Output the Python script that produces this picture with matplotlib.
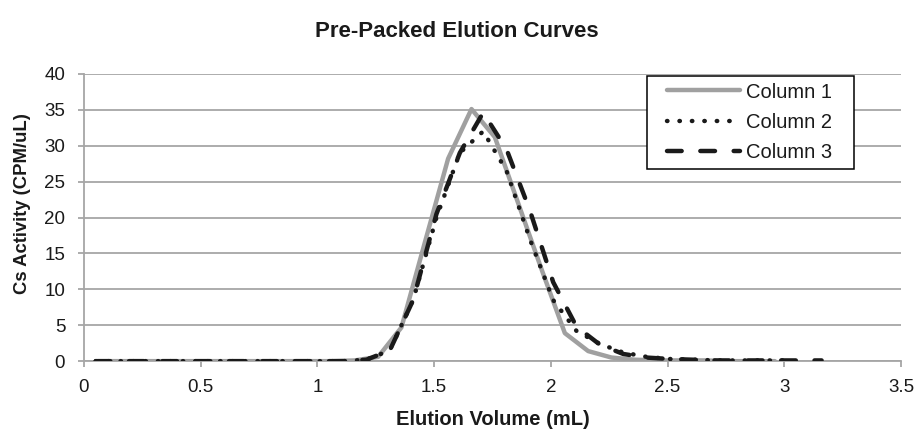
import matplotlib.pyplot as plt
from matplotlib.patches import Rectangle

plt.rcParams['font.family'] = ['Liberation Sans', 'DejaVu Sans']

# Fraction volumes (mL) and activities (CPM/uL)
vol_col1 = [0.06, 0.16, 0.26, 0.36, 0.46, 0.56, 0.66, 0.76, 0.86, 0.96, 1.06, 1.16,
            1.26, 1.36, 1.46, 1.56, 1.66, 1.76, 1.86, 1.96, 2.06, 2.16, 2.26, 2.36,
            2.46, 2.56, 2.66, 2.76, 2.86, 2.96]
act_col1 = [0, 0, 0, 0, 0, 0, 0, 0, 0, 0, 0, 0.1,
            0.6, 4.7, 16.5, 28.2, 35.1, 31.2, 22.0, 12.8, 3.9, 1.4, 0.5, 0.2,
            0.1, 0.1, 0.1, 0, 0, 0]

vol_col2 = [0.05, 0.11, 0.21, 0.31, 0.41, 0.51, 0.61, 0.71, 0.81, 0.91, 1.01, 1.11,
            1.21, 1.31, 1.41, 1.51, 1.61, 1.71, 1.81, 1.91, 2.01, 2.11, 2.21, 2.31,
            2.41, 2.51, 2.61, 2.71, 2.81, 2.91, 3.01]
act_col2 = [0, 0, 0, 0, 0, 0, 0, 0, 0, 0, 0, 0,
            0.2, 1.5, 8.5, 20.0, 29.0, 32.0, 26.5, 17.0, 8.5, 4.2, 2.4, 1.2,
            0.6, 0.3, 0.2, 0.1, 0.1, 0.1, 0.1]

vol_col3 = [0.05, 0.11, 0.21, 0.31, 0.41, 0.51, 0.61, 0.71, 0.81, 0.91, 1.01, 1.11,
            1.21, 1.31, 1.41, 1.51, 1.61, 1.71, 1.81, 1.91, 2.01, 2.11, 2.21, 2.31,
            2.41, 2.51, 2.61, 2.71, 2.81, 2.91, 3.01, 3.11, 3.16]
act_col3 = [0, 0, 0, 0, 0, 0, 0, 0, 0, 0, 0, 0,
            0.2, 1.5, 8.5, 20.5, 29.0, 34.6, 29.5, 21.0, 11.0, 4.8, 2.3, 1.0,
            0.5, 0.3, 0.2, 0.1, 0.1, 0.1, 0.1, 0.1, 0.1]

grid_gray = '#a6a6a6'
ink = '#1a1a1a'

fig = plt.figure(figsize=(9.19, 4.32), dpi=100)
ax = fig.add_axes([0.0914, 0.164, 0.889, 0.665])

ax.plot(vol_col1, act_col1, color='#a0a0a0', lw=3.2, solid_capstyle='round',
        label='Column 1', zorder=3)
ax.plot(vol_col2, act_col2, color=ink, lw=3.2, linestyle=(0, (0.1, 2.7)),
        dash_capstyle='round', label='Column 2', zorder=4)
ax.plot(vol_col3, act_col3, color=ink, lw=3.2, linestyle=(0, (3.3, 4.2)),
        dash_capstyle='round', label='Column 3', zorder=5)

ax.set_xlim(0, 3.5)
ax.set_ylim(0, 40)
ax.set_xticks([0, 0.5, 1, 1.5, 2, 2.5, 3, 3.5])
ax.set_xticklabels(['0', '0.5', '1', '1.5', '2', '2.5', '3', '3.5'])
ax.set_yticks(range(0, 45, 5))

ax.yaxis.grid(True, color=grid_gray, lw=1.3)
ax.set_axisbelow(True)
for s in ['top', 'right']:
    ax.spines[s].set_visible(False)
for s in ['left', 'bottom']:
    ax.spines[s].set_color(grid_gray)
    ax.spines[s].set_linewidth(1.3)
ax.tick_params(axis='both', direction='out', length=4.5, width=1.3, color=grid_gray,
               labelsize=13.5, labelcolor=ink)
ax.tick_params(axis='x', pad=8)
ax.tick_params(axis='y', pad=9)

fig.text(0.536, 0.030, 'Elution Volume (mL)', ha='center', va='center',
         fontsize=14.5, fontweight='bold', color=ink)
fig.text(0.025, 0.528, 'Cs Activity (CPM/uL)', ha='center', va='center',
         rotation=90, fontsize=13.3, fontweight='bold', color=ink)
fig.text(0.497, 0.928, 'Pre-Packed Elution Curves', ha='center', va='center',
         fontsize=16, fontweight='bold', color=ink)

# legend frame drawn separately so the padding can match the original
ax.add_patch(Rectangle((0.704, 0.609), 0.225, 0.215, transform=fig.transFigure,
                       facecolor='white', edgecolor='black', lw=1.1, zorder=6,
                       clip_on=False))
leg = ax.legend(loc='upper left', bbox_to_anchor=(0.7258, 0.809),
                bbox_transform=fig.transFigure, borderaxespad=0, borderpad=0,
                frameon=False, fontsize=14.5, handlelength=3.6,
                handletextpad=0.3, labelspacing=0.55)
for t in leg.get_texts():
    t.set_color(ink)
leg.set_zorder(7)

fig.savefig('out.png', dpi=100, facecolor='white')
